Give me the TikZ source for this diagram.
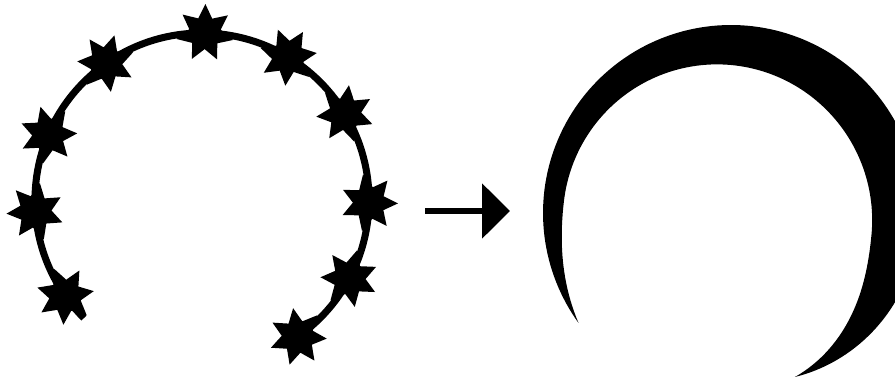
\documentclass[tikz,border=0pt]{standalone}
\usetikzlibrary{arrows.meta,shapes.geometric,calc}

\begin{document}
\begin{tikzpicture}[x=0.02cm,y=0.02cm,line width=4pt,
  >={Triangle[length=0.56cm,width=1.08cm]},
  sparkle/.style={star,star points=7,star point ratio=1.8,fill=black,
    draw=none,inner sep=0pt,minimum size=1.16cm},
  declare function={
    wbase(\t)=33.5+13.5*cos(\t)+6.5*sin(\t);
    tl(\t)=min(1,(215.8-\t)/40);
    tr(\t)=min(1,(\t+68.7)/60);
    taper(\t)=sin(90*tl(\t))*sin(90*tr(\t));
    outerR(\t)=188-12*(1-tr(\t))^2;
  }]
  \useasboundingbox (0,0) rectangle (895,383);
  % ring with stars on it
  \coordinate (ring) at (202,183);
  \draw (ring) ++(225:167) arc[start angle=225,end angle=-55,radius=167];
  \foreach \a [count=\i] in {89,59,31,-1,-28,-55,125,157,184,215}
    \node[sparkle,rotate=\a-90] (s\i) at ($(ring)+(\a:167)$) {};
  % arrow
  \coordinate (from) at (425,172);
  \coordinate (to) at (510,172);
  \draw[->,line width=3.4pt] (from) -- (to);
  % crescent: outer edge, then tapered inner edge back
  \coordinate (moon) at (731,170);
  \fill[shift={(moon)}]
    plot[domain=215.8:-68.7,samples=160] (\x:{outerR(\x)})
    -- plot[domain=-68.7:215.8,samples=160] (\x:{outerR(\x)-wbase(\x)*taper(\x)})
    -- cycle;
\end{tikzpicture}
\end{document}
